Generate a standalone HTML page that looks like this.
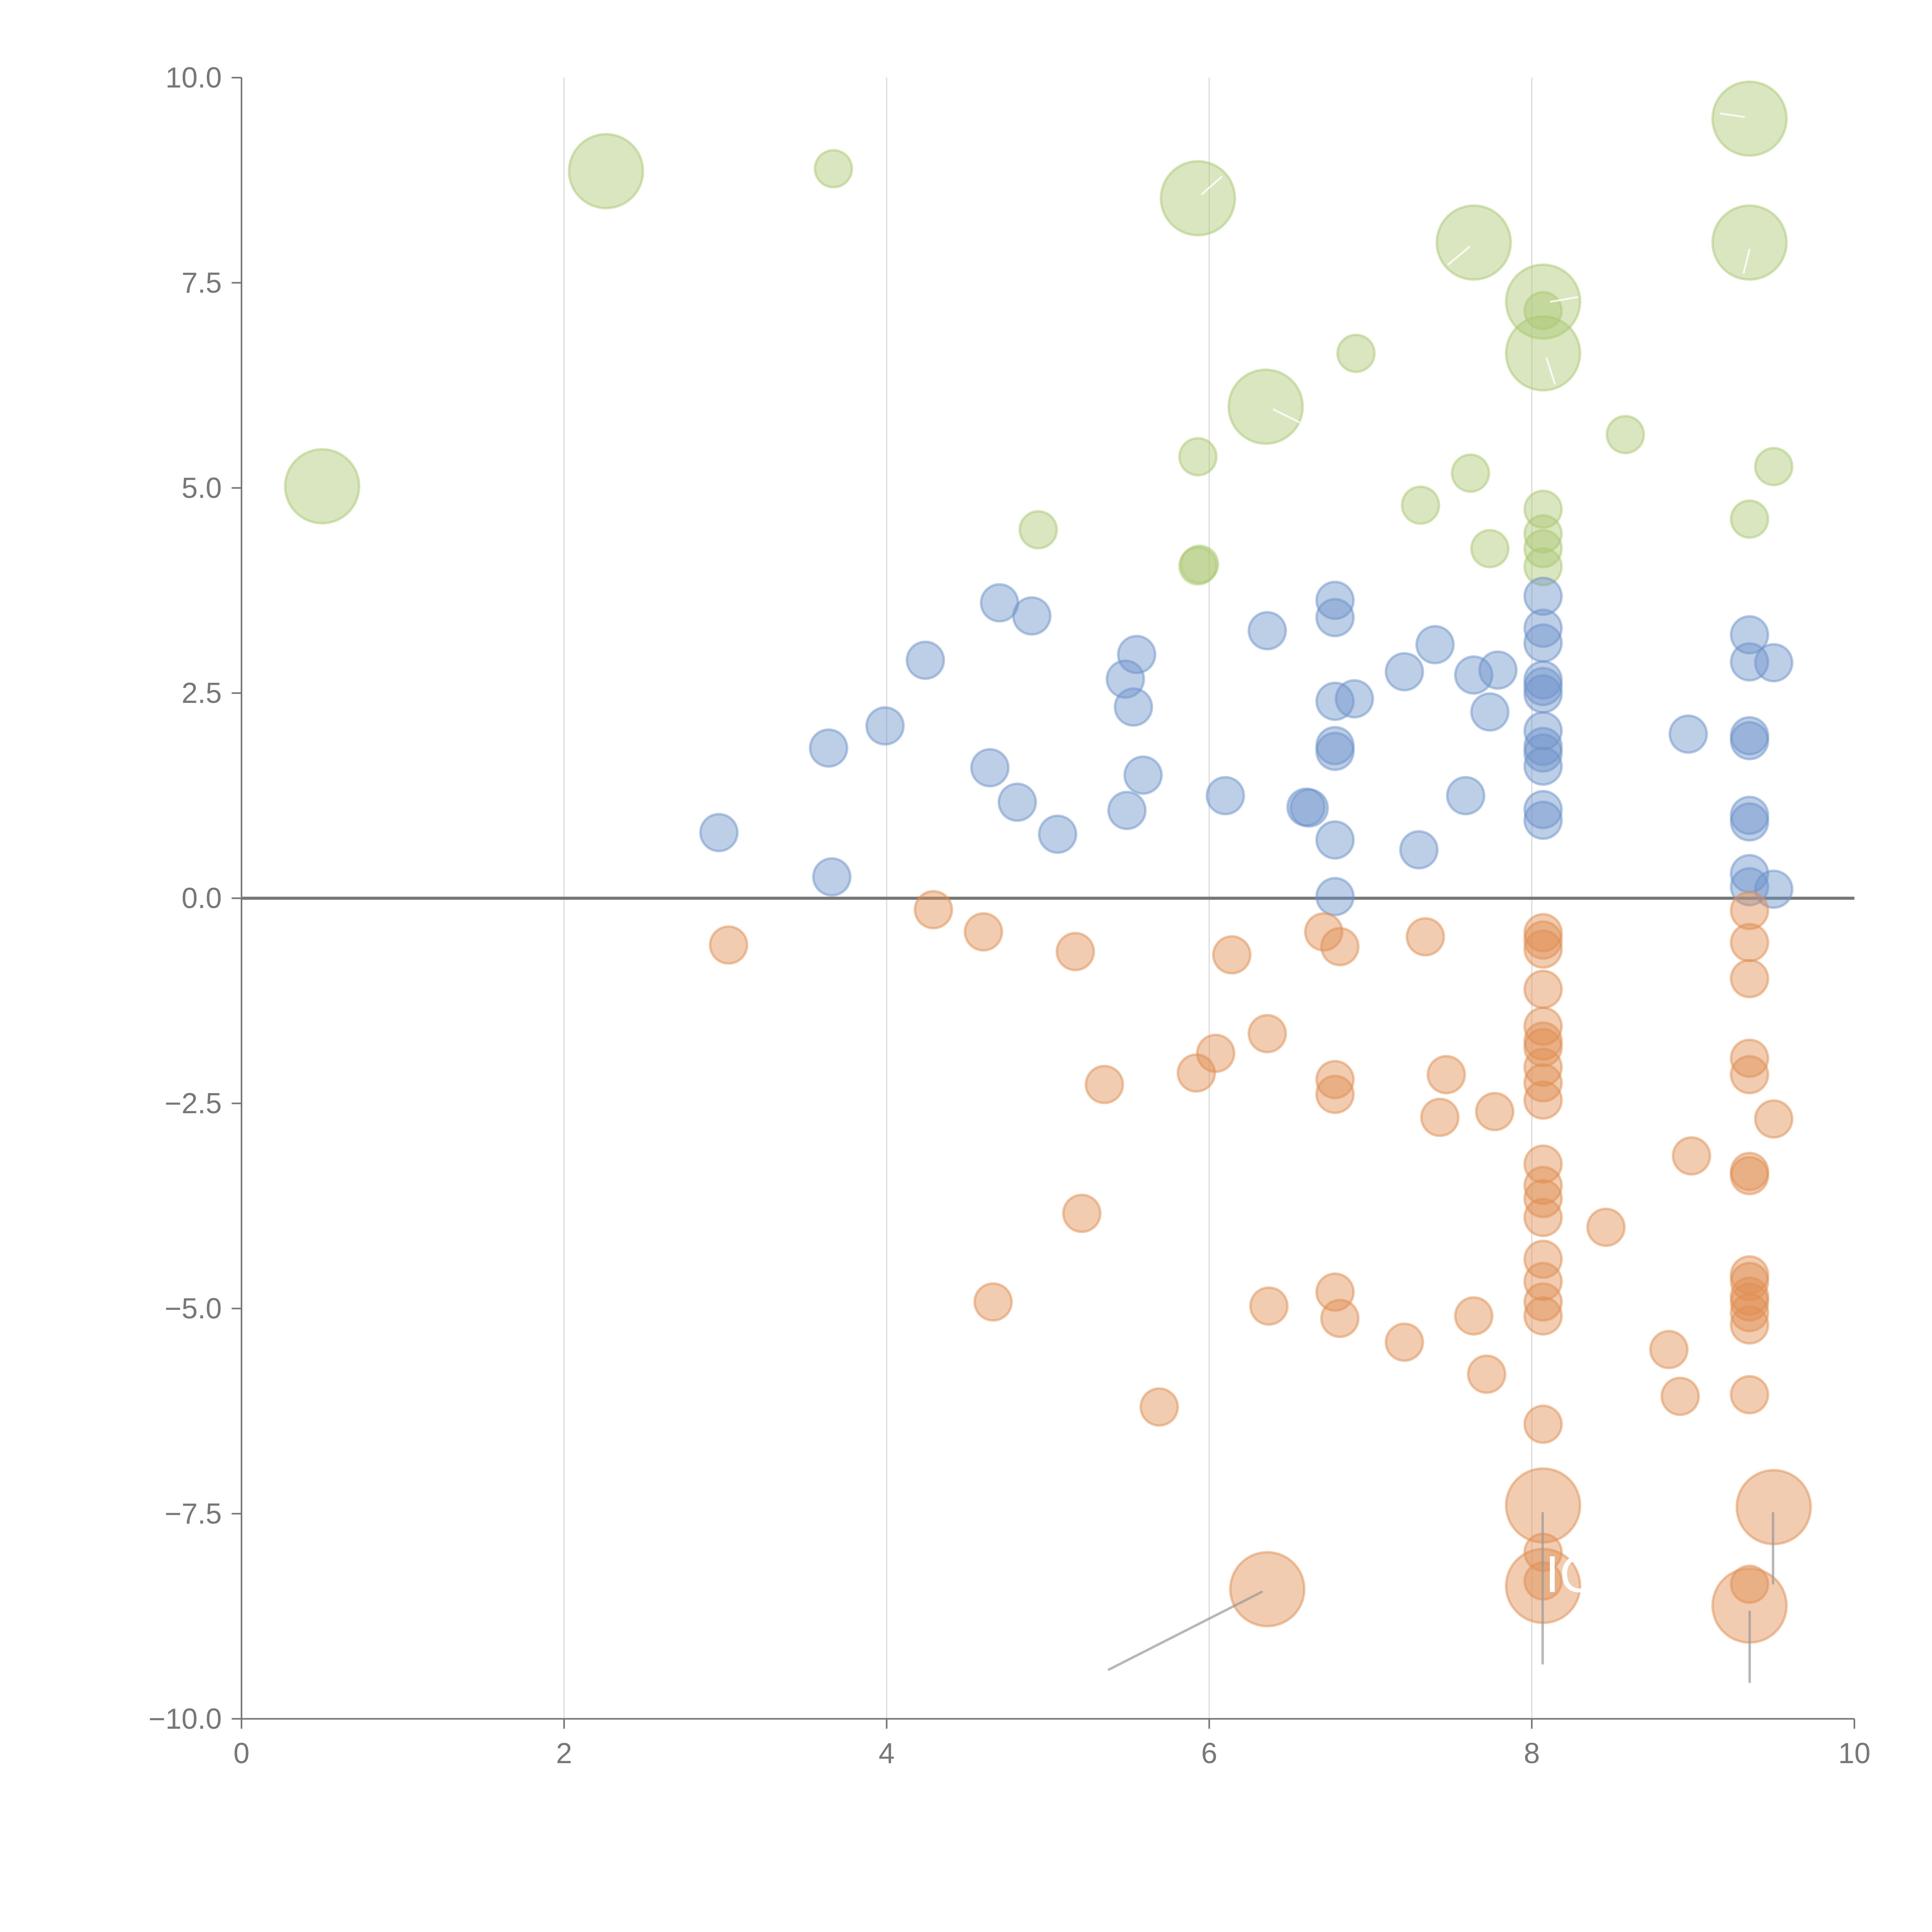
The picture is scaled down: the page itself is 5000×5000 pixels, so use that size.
<!DOCTYPE html>
<html><head><meta charset="utf-8"><style>
html,body{margin:0;padding:0;background:#fff;}
svg{display:block;}
text{font-family:"Liberation Sans",sans-serif;}
</style></head><body>
<svg id="chart" width="5000" height="5000" viewBox="0 0 1568 1568" xmlns="http://www.w3.org/2000/svg">
<g id="grid"></g>
<g id="axes"></g>
<g id="marks"></g>
<g id="notes"></g>
</svg>
<script>
const xTicks=[0,2,4,6,8,10];
const yTicks=[-10,-7.5,-5,-2.5,0,2.5,5,7.5,10];
const greenX=[0.50,2.26,3.67,5.93,7.64,9.35,9.35,8.07,8.07,6.35,6.91,8.58,9.50,5.93,7.62,7.31,4.94,7.74,5.93,5.94,8.07,8.07,8.07,8.07,9.35,8.07];
const greenY=[5.02,8.86,8.89,8.53,7.99,9.50,7.99,7.27,6.64,5.99,6.64,5.65,5.26,5.38,5.18,4.79,4.49,4.26,4.05,4.07,4.74,4.44,4.26,4.04,4.62,7.16];
const greenS=[4,4,1,4,4,4,4,4,4,4,1,1,1,1,1,1,1,1,1,1,1,1,1,1,1,1];
const blueX=[2.96,3.66,3.64,3.99,4.24,4.70,4.90,4.64,4.81,5.06,5.48,5.55,5.53,5.59,5.49,6.10,6.36,6.60,6.62,6.78,6.78,6.78,6.90,6.78,6.78,6.78,6.78,7.21,7.30,7.40,7.64,7.79,7.74,7.59,8.07,8.07,8.07,8.07,8.07,8.07,8.07,8.07,8.07,8.07,8.07,8.07,8.97,9.35,9.35,9.50,9.35,9.35,9.35,9.35,9.35,9.35,9.50];
const blueY=[0.80,0.26,1.83,2.10,2.90,3.60,3.44,1.59,1.17,0.78,2.67,2.97,2.33,1.50,1.07,1.25,3.26,1.11,1.10,3.63,3.42,2.40,2.43,1.86,1.79,0.71,0.02,2.76,0.59,3.09,2.72,2.78,2.27,1.25,3.68,3.29,3.11,2.66,2.58,2.49,2.04,1.85,1.77,1.61,1.08,0.95,2.00,3.21,2.88,2.87,1.98,1.92,1.01,0.93,0.30,0.14,0.11];
const orangeX=[3.02,4.29,4.60,5.17,5.35,5.21,4.66,5.69,5.92,6.04,6.14,6.36,6.37,6.71,6.81,6.78,6.78,6.78,6.81,7.21,7.34,7.47,7.43,7.77,7.64,7.72,
8.07,8.07,8.07,8.07,8.07,8.07,8.07,8.07,8.07,8.07,8.07,8.07,8.07,8.07,8.07,8.07,8.07,8.07,8.07,8.07,8.07,
8.46,8.99,8.85,8.92,
9.35,9.35,9.35,9.35,9.35,9.35,9.35,9.35,9.35,9.35,9.35,9.35,9.35,9.35,9.35,9.50,
6.36,8.07,8.07,9.50,9.35];
const orangeY=[-0.57,-0.14,-0.41,-0.65,-2.27,-3.84,-4.92,-6.20,-2.13,-1.89,-0.69,-1.65,-4.97,-0.41,-0.59,-2.21,-2.39,-4.80,-5.12,-5.41,-0.47,-2.15,-2.67,-2.60,-5.09,-5.80,
-0.42,-0.51,-0.62,-1.11,-1.56,-1.74,-1.82,-2.06,-2.25,-2.46,-3.24,-3.50,-3.66,-3.89,-4.40,-4.67,-4.92,-5.09,-6.41,-7.97,-8.32,
-4.01,-3.14,-5.50,-6.07,
-0.15,-0.54,-0.98,-1.95,-2.15,-3.33,-3.38,-4.59,-4.67,-4.85,-4.92,-5.05,-5.20,-6.05,-8.36,-2.69,
-8.42,-7.40,-8.38,-7.42,-8.62];
const orangeS=orangeX.map((v,i)=>i>=orangeX.length-5?4:1);

const NS="http://www.w3.org/2000/svg";
const X0=196,X1=1505,Y0=1395,Y1=63;
function sx(v){return X0+(v-0)/(10-0)*(X1-X0);}
function sy(v){return Y0-(v+10)/20*(Y0-Y1);}
function sr(s){return 15*Math.sqrt(s);}
function mk(tag,attrs,parent){const e=document.createElementNS(NS,tag);for(const k in attrs)e.setAttribute(k,attrs[k]);parent.appendChild(e);return e;}
const grid=document.getElementById('grid'),axes=document.getElementById('axes'),marks=document.getElementById('marks'),notes=document.getElementById('notes');

xTicks.forEach(t=>{
  if(t>0&&t<10){const g=mk('line',{x1:sx(t),x2:sx(t),y1:Y1,y2:Y0,stroke:'#ddd','stroke-width':1},grid);
  
  }
  const tk=mk('line',{x1:sx(t),x2:sx(t),y1:Y0,y2:Y0+8,stroke:'#777','stroke-width':1.3},axes);
  
  
  const tx=mk('text',{x:sx(t),y:Y0+36,'text-anchor':'middle','font-size':23.5,fill:'#777'},axes);
  tx.textContent=String(t);
  
  
});
yTicks.forEach(t=>{
  const tk=mk('line',{x1:X0-8,x2:X0,y1:sy(t),y2:sy(t),stroke:'#777','stroke-width':1.3},axes);
  
  
  const tx=mk('text',{x:X0-16,y:sy(t)+8,'text-anchor':'end','font-size':23.5,fill:'#777'},axes);
  tx.textContent=(t<0?'\u2212':'')+Math.abs(t).toFixed(1);
  
  
});
let a=mk('line',{x1:X0,x2:X0,y1:Y1,y2:Y0,stroke:'#777','stroke-width':1.3},axes);


a=mk('line',{x1:X0,x2:X1,y1:Y0,y2:Y0,stroke:'#777','stroke-width':1.3},axes);



function series(xs,ys,ss,color,name){
  xs.forEach((v,i)=>{
    const c=mk('circle',{cx:sx(v),cy:sy(ys[i]),r:sr(ss?ss[i]:1),fill:color,'fill-opacity':0.45,stroke:color,'stroke-opacity':0.5,'stroke-width':2},marks);
    
    
  });
}
series(greenX,greenY,greenS,'#abc873','green-bubble');
series(blueX,blueY,null,'#6d93c9','blue-bubble');
series(orangeX,orangeY,orangeS,'#e08f52','orange-bubble');

const z=mk('line',{x1:X0,x2:X1,y1:sy(0),y2:sy(0),stroke:'#777','stroke-width':2.5},axes);



[[900,1355,1024,1292],[1252,1228,1252,1350],[1439,1228,1439,1285],[1420,1308,1420,1365]].forEach(l=>{
  const e=mk('line',{x1:l[0],y1:l[1],x2:l[2],y2:l[3],stroke:'#999','stroke-opacity':0.7,'stroke-width':2,'stroke-linecap':'round'},notes);
  
  
});
[[975,158,992,143],[1175,215,1193,200],[1396,92,1416,95],[1415,222,1420,202],[1258,245,1281,241],[1255,290,1262,312],[1033,332,1055,343]].forEach(l=>{
  const e=mk('line',{x1:l[0],y1:l[1],x2:l[2],y2:l[3],stroke:'#fff','stroke-opacity':0.8,'stroke-width':1.5},notes);
  
  
});
const lab=mk('text',{x:1254,y:1292,'font-size':42,fill:'#fff'},notes);
lab.textContent='IC';


</script>
</body></html>
